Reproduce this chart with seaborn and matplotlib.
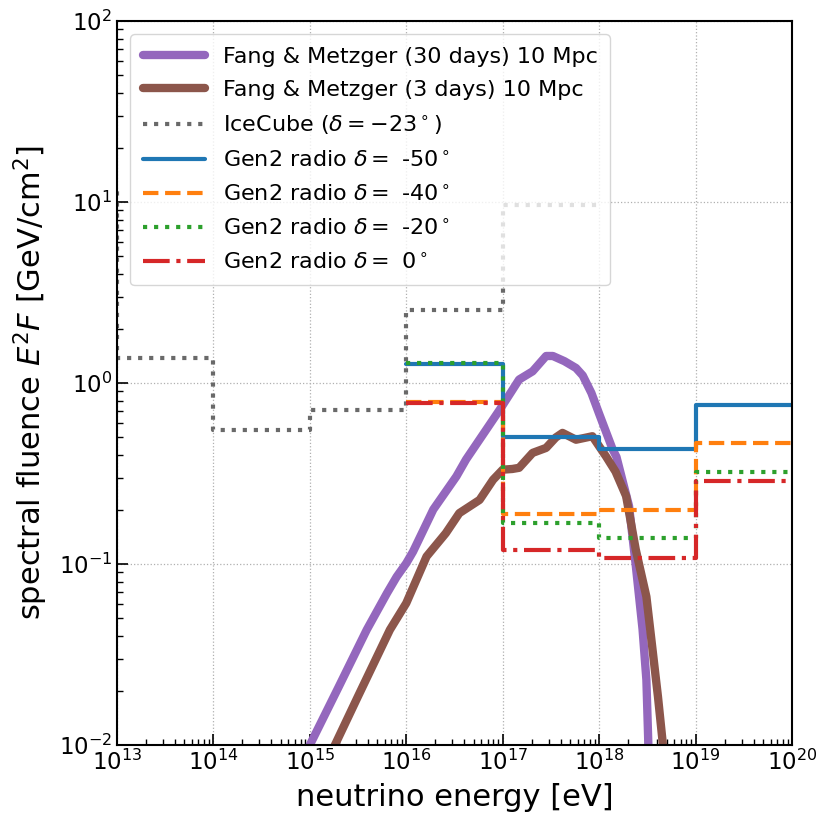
#!/usr/bin/env python3
"""Neutrino fluence: Fang & Metzger model vs IceCube and Gen2 radio sensitivities."""

import matplotlib
matplotlib.use("Agg")
import matplotlib.pyplot as plt
import numpy as np
import pandas as pd
import seaborn as sns

sns.set_style("ticks")
plt.rcParams["font.family"] = ["DejaVu Sans"]
plt.rcParams["mathtext.fontset"] = "dejavusans"
plt.rcParams["text.color"] = "black"
plt.rcParams["axes.labelcolor"] = "black"
plt.rcParams["xtick.color"] = "black"
plt.rcParams["ytick.color"] = "black"

LABEL_SIZE = 22
TICK_SIZE = 16.5
LEGEND_SIZE = 16

# Fang & Metzger model curves (log10 E [eV], E^2F [GeV/cm^2])
FM30_LOGE = [14.95, 15.0, 15.3, 15.59, 15.8, 15.9, 16.0, 16.07, 16.28, 16.52, 16.62,
             16.83, 16.97, 17.17, 17.31, 17.45, 17.52, 17.64, 17.76, 17.83, 17.92, 18.0,
             18.14, 18.18, 18.31, 18.38, 18.45, 18.49, 18.51, 18.53]
FM30_FLUENCE = [0.0087, 0.0100, 0.021, 0.0433, 0.069, 0.085, 0.101, 0.117, 0.20, 0.305,
                0.378, 0.553, 0.713, 1.045, 1.16, 1.41, 1.41, 1.32, 1.21, 1.10, 0.88, 0.676,
                0.43, 0.39, 0.209, 0.098, 0.0437, 0.0229, 0.0102, 0.005]

FM3_LOGE = [15.2, 15.26, 15.5, 15.83, 16.0, 16.21, 16.41, 16.55, 16.76, 16.90, 17.0,
            17.1, 17.17, 17.31, 17.45, 17.55, 17.62, 17.76, 17.93, 18.0, 18.07, 18.17,
            18.28, 18.38, 18.49, 18.55, 18.61, 18.66, 18.68]
FM3_FLUENCE = [0.0085, 0.0100, 0.0186, 0.0433, 0.0608, 0.110, 0.148, 0.191, 0.226, 0.292,
               0.332, 0.335, 0.34, 0.411, 0.438, 0.50, 0.53, 0.486, 0.508, 0.447, 0.394,
               0.324, 0.237, 0.12, 0.066, 0.035, 0.0185, 0.0102, 0.0063]

# IceCube binned sensitivity (decade bins, left edges)
ICECUBE_LOGE = [12, 13, 14, 15, 16, 17, 18]
ICECUBE_FLUENCE = [12.0, 1.38, 0.553, 0.705, 2.52, 9.6, 9.6]

# Gen2 radio binned sensitivities (decade bins, left edges)
GEN2_LOGE = [16, 17, 18, 19, 20]
GEN2_DECL = ["-50", "-40", "-20", "0"]
GEN2_FLUENCE = {
    "-50": [1.27, 0.50, 0.43, 0.753, 0.753],
    "-40": [0.79, 0.19, 0.199, 0.467, 0.467],
    "-20": [1.29, 0.168, 0.140, 0.321, 0.321],
    "0": [0.777, 0.119, 0.108, 0.286, 0.286],
}
GEN2_STYLE = {
    "-50": ("#1f77b4", "-"),
    "-40": ("#ff7f0e", "--"),
    "-20": ("#2ca02c", ":"),
    "0": ("#d62728", "-."),
}

X_TICKS = [1e13, 1e14, 1e15, 1e16, 1e17, 1e18, 1e19, 1e20]


def frame(loge, fluence):
    return pd.DataFrame({"energy": 10.0 ** np.asarray(loge, dtype=float),
                         "fluence": fluence})


fig = plt.figure(figsize=(8.31, 8.32), dpi=100)
ax = fig.add_axes([117 / 831, 1 - 745 / 832, (792 - 117) / 831, (745 - 21) / 832])

sns.lineplot(data=frame(FM30_LOGE, FM30_FLUENCE), x="energy", y="fluence", ax=ax,
             color="#9467bd", linewidth=6, label="Fang & Metzger (30 days) 10 Mpc")
sns.lineplot(data=frame(FM3_LOGE, FM3_FLUENCE), x="energy", y="fluence", ax=ax,
             color="#8c564b", linewidth=6, label="Fang & Metzger (3 days) 10 Mpc")
sns.lineplot(data=frame(ICECUBE_LOGE, ICECUBE_FLUENCE), x="energy", y="fluence", ax=ax,
             color="dimgray", linewidth=3, linestyle=":", drawstyle="steps-post",
             label=r"IceCube ($\delta = -23^\circ$)")
for decl in GEN2_DECL:
    color, ls = GEN2_STYLE[decl]
    sns.lineplot(data=frame(GEN2_LOGE, GEN2_FLUENCE[decl]), x="energy", y="fluence", ax=ax,
                 color=color, linewidth=3, linestyle=ls, drawstyle="steps-post",
                 label=r"Gen2 radio $\delta = $ " + decl + r"$^\circ$")

ax.set_xscale("log")
ax.set_yscale("log")
ax.set_xticks(X_TICKS)
ax.xaxis.set_minor_locator(matplotlib.ticker.LogLocator(base=10, subs=np.arange(2, 10), numticks=20))
ax.set_xlim(1e13, 1e20)
ax.set_ylim(1e-2, 1e2)
ax.set_xlabel("neutrino energy [eV]", fontsize=LABEL_SIZE, labelpad=6)
ax.set_ylabel(r"spectral fluence $E^2F$ [GeV/cm$^2$]", fontsize=LABEL_SIZE, labelpad=6)
ax.tick_params(axis="both", which="both", direction="in", labelsize=TICK_SIZE,
               top=False, right=False)
ax.tick_params(axis="both", which="major", length=8, width=1.2)
ax.tick_params(axis="both", which="minor", length=4, width=1)
ax.grid(True, which="major", linestyle=":", color="#b0b0b0", linewidth=0.9)
for spine in ax.spines.values():
    spine.set_visible(True)
    spine.set_color("black")
    spine.set_linewidth(1.5)

ax.legend(loc="upper left", fontsize=LEGEND_SIZE, handlelength=2.8, handletextpad=0.8,
          labelspacing=0.6, borderpad=0.55, framealpha=0.8, borderaxespad=0.6)

fig.savefig("out.png", dpi=100)
